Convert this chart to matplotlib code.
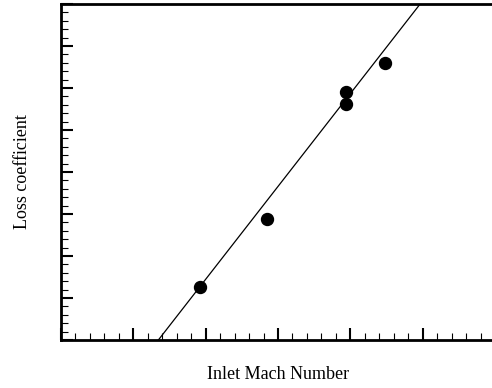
import matplotlib.pyplot as plt
from matplotlib.ticker import MultipleLocator, NullFormatter

plt.rcParams['font.family'] = ['Liberation Serif', 'DejaVu Serif']

# Measured points
mach = [0.592, 0.685, 0.794, 0.794, 0.848]
loss = [0.0126, 0.0287, 0.0590, 0.0562, 0.0660]

# Fitted straight line
fit_x = [0.5346, 0.8965]
fit_y = [0.0, 0.08]

fig = plt.figure(figsize=(4.92, 3.88), dpi=100)
ax = fig.add_axes([61 / 492, 48 / 388, 434 / 492, 336 / 388])

ax.plot(fit_x, fit_y, color='black', linewidth=0.9)
ax.plot(mach, loss, 'o', color='black', markersize=8.6)

ax.set_xlim(0.4, 1.0)
ax.set_ylim(0.0, 0.08)

ax.xaxis.set_major_locator(MultipleLocator(0.1))
ax.xaxis.set_minor_locator(MultipleLocator(0.02))
ax.yaxis.set_major_locator(MultipleLocator(0.01))
ax.yaxis.set_minor_locator(MultipleLocator(0.002))
ax.xaxis.set_major_formatter(NullFormatter())
ax.yaxis.set_major_formatter(NullFormatter())

ax.tick_params(which='major', direction='in', length=8.6, width=1.5)
ax.tick_params(which='minor', direction='in', length=5, width=0.8)
ax.tick_params(top=False, right=False, which='both')

for s in ax.spines.values():
    s.set_linewidth(2)

ax.set_xlabel('Inlet Mach Number', fontsize=13, labelpad=15)
ax.set_ylabel('Loss coefficient', fontsize=13, labelpad=18)

plt.savefig('out.png', dpi=100)
